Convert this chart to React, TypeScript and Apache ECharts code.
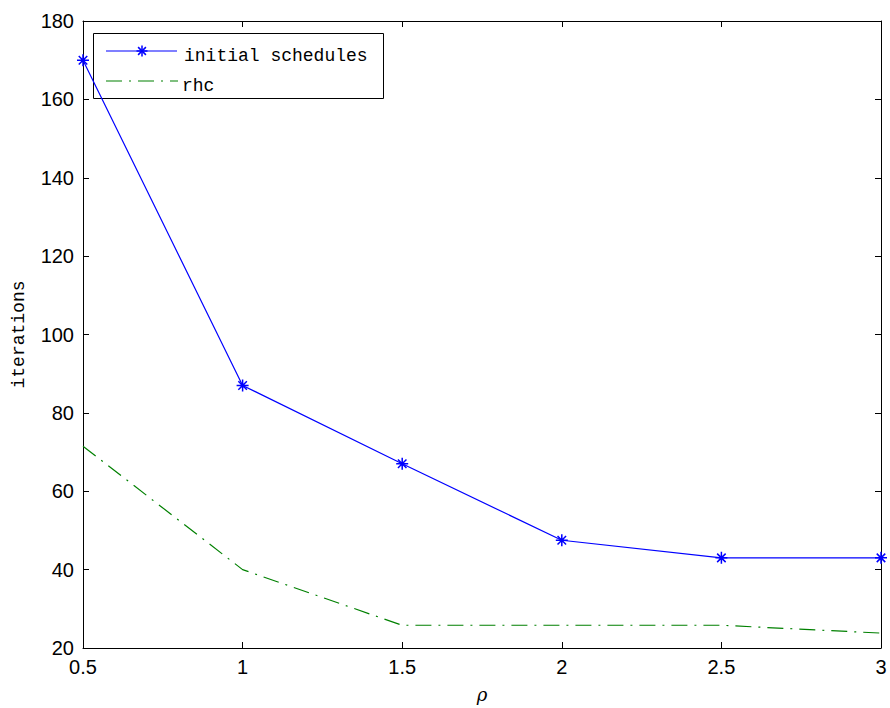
import React, { useEffect, useRef } from "react";
import * as echarts from "echarts";

const rhoValues = [0.5, 1, 1.5, 2, 2.5, 3];
const initialSchedules = [170, 87, 67, 47.5, 43, 43];
const rhc = [71.5, 40, 25.8, 25.8, 25.8, 23.8];
const legendNames = ["initial schedules", "rhc"];

const BLUE = "#0000ff";
const GREEN = "#008000";
const asterisk =
  "path://M0,-1L0,1M-1,0L1,0M-0.71,-0.71L0.71,0.71M-0.71,0.71L0.71,-0.71";
const dashDot = [16, 7, 2, 7];

export default function App() {
  const ref = useRef<HTMLDivElement>(null);
  useEffect(() => {
    if (!ref.current) return;
    const chart = echarts.init(ref.current, undefined, { renderer: "svg" });
    const labelFont = { fontFamily: "Liberation Sans", fontSize: 20, color: "#000" };
    const axisLine = { show: true, lineStyle: { color: "#000", width: 1 } };
    const tick = { show: true, inside: true, length: 6, lineStyle: { color: "#000" } };
    const monoFont = "Liberation Mono";
    const ax = 142;
    const ay = 51;
    const r = 5.5;
    const d = r * 0.71;
    chart.setOption({
      animation: false,
      backgroundColor: "#fff",
      grid: { left: 83, right: 9, top: 21, bottom: 59, containLabel: false },
      graphic: [
        {
          type: "group",
          z: 100,
          children: [
            {
              type: "rect",
              shape: { x: 93.5, y: 33.5, width: 290, height: 65 },
              style: { fill: "#fff", stroke: "#000", lineWidth: 1 },
            },
            {
              type: "line",
              shape: { x1: 106, y1: ay, x2: 177, y2: ay },
              style: { stroke: BLUE, lineWidth: 1.2 },
            },
            { type: "line", shape: { x1: ax, y1: ay - r, x2: ax, y2: ay + r }, style: { stroke: BLUE, lineWidth: 1.5 } },
            { type: "line", shape: { x1: ax - r, y1: ay, x2: ax + r, y2: ay }, style: { stroke: BLUE, lineWidth: 1.5 } },
            { type: "line", shape: { x1: ax - d, y1: ay - d, x2: ax + d, y2: ay + d }, style: { stroke: BLUE, lineWidth: 1.5 } },
            { type: "line", shape: { x1: ax - d, y1: ay + d, x2: ax + d, y2: ay - d }, style: { stroke: BLUE, lineWidth: 1.5 } },
            {
              type: "text",
              x: 184,
              y: 56,
              style: {
                text: legendNames[0],
                font: `18px "${monoFont}"`,
                fill: "#000",
                verticalAlign: "middle",
                align: "left",
              },
            },
            {
              type: "line",
              shape: { x1: 106, y1: 81, x2: 178, y2: 81 },
              style: { stroke: GREEN, lineWidth: 1.2, lineDash: dashDot },
            },
            {
              type: "text",
              x: 182,
              y: 86,
              style: {
                text: legendNames[1],
                font: `18px "${monoFont}"`,
                fill: "#000",
                verticalAlign: "middle",
                align: "left",
              },
            },
          ],
        },
      ],
      xAxis: [
        {
          type: "value",
          min: 0.5,
          max: 3,
          interval: 0.5,
          name: "ρ",
          nameLocation: "middle",
          nameGap: 37,
          nameTextStyle: { fontFamily: "DejaVu Serif", fontStyle: "italic", fontSize: 18, color: "#000" },
          axisLine,
          axisTick: tick,
          axisLabel: { ...labelFont, margin: 9 },
          splitLine: { show: false },
        },
        {
          type: "value",
          position: "top",
          min: 0.5,
          max: 3,
          interval: 0.5,
          axisLine,
          axisTick: tick,
          axisLabel: { show: false },
          splitLine: { show: false },
        },
      ],
      yAxis: [
        {
          type: "value",
          min: 20,
          max: 180,
          interval: 20,
          name: "iterations",
          nameLocation: "middle",
          nameGap: 55,
          nameTextStyle: { fontFamily: monoFont, fontSize: 18, color: "#000" },
          axisLine,
          axisTick: tick,
          axisLabel: { ...labelFont, margin: 9 },
          splitLine: { show: false },
        },
        {
          type: "value",
          position: "right",
          min: 20,
          max: 180,
          interval: 20,
          axisLine,
          axisTick: tick,
          axisLabel: { show: false },
          splitLine: { show: false },
        },
      ],
      series: [
        {
          name: legendNames[0],
          type: "line",
          data: rhoValues.map((x, i) => [x, initialSchedules[i]]),
          symbol: asterisk,
          symbolSize: 12,
          color: BLUE,
          lineStyle: { color: BLUE, width: 1.2 },
          itemStyle: { color: BLUE, borderColor: BLUE, borderWidth: 1.5 },
          clip: false,
        },
        {
          name: legendNames[1],
          type: "line",
          data: rhoValues.map((x, i) => [x, rhc[i]]),
          symbol: "none",
          color: GREEN,
          lineStyle: { color: GREEN, width: 1.2, type: dashDot },
          clip: false,
        },
      ],
    });
    return () => chart.dispose();
  }, []);
  return <div ref={ref} style={{ width: 890, height: 708, position: "absolute", left: 0, top: 0 }} />;
}
